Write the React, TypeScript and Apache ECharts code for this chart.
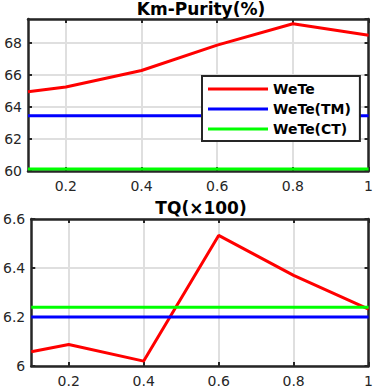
import React, { useEffect, useRef } from "react";
import * as echarts from "echarts";

const xValues = [0.1, 0.2, 0.4, 0.6, 0.8, 1.0];
const xTicks = [0.2, 0.4, 0.6, 0.8, 1];
const seriesNames = ["WeTe", "WeTe(TM)", "WeTe(CT)"];
const seriesColors = ["#ff0000", "#0000ff", "#00ff00"];

const purityWeTe = [64.95, 65.25, 66.28, 67.87, 69.2, 68.48];
const purityTM = [63.45, 63.45, 63.45, 63.45, 63.45, 63.45];
const purityCT = [60.12, 60.12, 60.12, 60.12, 60.12, 60.12];

const tqWeTe = [6.058, 6.088, 6.02, 6.533, 6.37, 6.232];
const tqTM = [6.2, 6.2, 6.2, 6.2, 6.2, 6.2];
const tqCT = [6.24, 6.24, 6.24, 6.24, 6.24, 6.24];

const titles = ["Km-Purity(%)", "TQ(×100)"];

const FONT = "DejaVu Sans";
const FRAME = "#262626";
const GRIDC = "#dfdfdf";

function pairs(ys: number[]) {
  return xValues.map((x, i) => [x, ys[i]]);
}

export default function App() {
  const ref = useRef<HTMLDivElement>(null);
  useEffect(() => {
    if (!ref.current) return;
    const chart = echarts.init(ref.current, undefined, { renderer: "svg" });

    const grids = [
      { left: 28, top: 19, width: 346, height: 152 },
      { left: 28, top: 219, width: 346, height: 148 },
    ];
    const yRanges = [
      { min: 60, max: 69.5, interval: 2 },
      { min: 6, max: 6.6, interval: 0.2 },
    ];
    const xAxes: any[] = [];
    const yAxes: any[] = [];
    grids.forEach((_, gi) => {
      xAxes.push({
        type: "value",
        gridIndex: gi,
        position: "bottom",
        min: 0.1,
        max: 1,
        axisLine: { show: true, onZero: false, lineStyle: { color: FRAME, width: 2.5 } },
        axisTick: { show: true, inside: true, length: 4, customValues: xTicks, lineStyle: { color: FRAME, width: 2 } },
        axisLabel: { show: true, customValues: xTicks, margin: 8, fontSize: 14, fontFamily: FONT, color: FRAME },
        splitLine: { show: true, lineStyle: { color: GRIDC, width: 2 } },
      });
      xAxes.push({
        type: "value",
        gridIndex: gi,
        position: "top",
        min: 0.1,
        max: 1,
        axisLine: { show: true, onZero: false, lineStyle: { color: FRAME, width: 2.5 } },
        axisTick: { show: true, inside: true, length: 4, customValues: xTicks, lineStyle: { color: FRAME, width: 2 } },
        axisLabel: { show: false },
        splitLine: { show: false },
      });
      const yr = yRanges[gi];
      yAxes.push({
        type: "value",
        gridIndex: gi,
        position: "left",
        min: yr.min,
        max: yr.max,
        interval: yr.interval,
        axisLine: { show: true, onZero: false, lineStyle: { color: FRAME, width: 2.5 } },
        axisTick: { show: true, inside: true, length: 4, lineStyle: { color: FRAME, width: 2 } },
        axisLabel: { show: true, margin: 6, fontSize: 14, fontFamily: FONT, color: FRAME, showMaxLabel: gi === 1 },
        splitLine: { show: true, lineStyle: { color: GRIDC, width: 2 } },
      });
      yAxes.push({
        type: "value",
        gridIndex: gi,
        position: "right",
        min: yr.min,
        max: yr.max,
        interval: yr.interval,
        axisLine: { show: true, onZero: false, lineStyle: { color: FRAME, width: 2.5 } },
        axisTick: { show: true, inside: true, length: 4, lineStyle: { color: FRAME, width: 2 } },
        axisLabel: { show: false },
        splitLine: { show: false },
      });
    });

    const data = [
      [purityWeTe, purityTM, purityCT],
      [tqWeTe, tqTM, tqCT],
    ];
    const series: any[] = [];
    data.forEach((group, gi) => {
      group.forEach((ys, si) => {
        series.push({
          type: "line",
          name: seriesNames[si],
          xAxisIndex: gi * 2,
          yAxisIndex: gi * 2,
          data: pairs(ys),
          showSymbol: false,
          symbol: "none",
          lineStyle: { color: seriesColors[si], width: 3 },
          itemStyle: { color: seriesColors[si] },
          z: 3 + si,
        });
      });
    });

    chart.setOption({
      animation: false,
      backgroundColor: "#ffffff",
      title: [
        {
          text: titles[0],
          left: 201,
          top: 0,
          padding: 0,
          textAlign: "center",
          textStyle: { fontSize: 17, fontWeight: "bold", fontFamily: FONT, color: "#000" },
        },
        {
          text: titles[1],
          left: 201,
          top: 199,
          padding: 0,
          textAlign: "center",
          textStyle: { fontSize: 17, fontWeight: "bold", fontFamily: FONT, color: "#000" },
        },
      ],
      legend: {
        data: seriesNames,
        orient: "vertical",
        left: 202,
        top: 76,
        z: 20,
        icon: "rect",
        itemWidth: 60,
        itemHeight: 3,
        itemGap: 6,
        padding: [6, 9, 5, 6],
        backgroundColor: "#ffffff",
        borderColor: FRAME,
        borderWidth: 2,
        borderRadius: 0,
        textStyle: { fontSize: 14, fontWeight: "bold", fontFamily: FONT, color: "#000", lineHeight: 14, padding: [0, 0, 0, 0] },
      },
      grid: grids.map((g) => ({ ...g, containLabel: false })),
      xAxis: xAxes,
      yAxis: yAxes,
      series,
    });
    return () => chart.dispose();
  }, []);
  return (
    <div
      ref={ref}
      style={{ position: "fixed", left: 0, top: 0, width: 376, height: 388 }}
    />
  );
}
